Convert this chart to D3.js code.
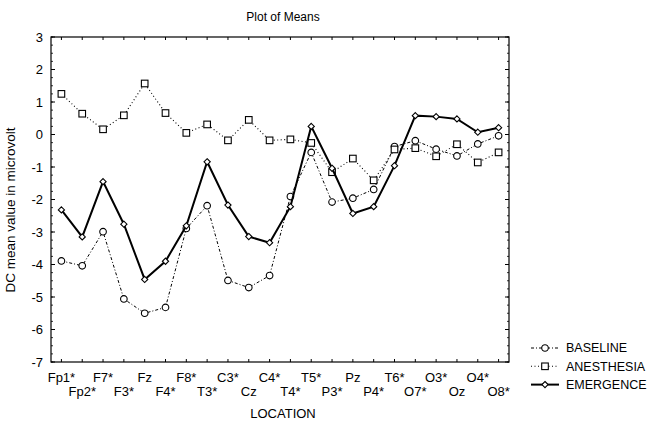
<!DOCTYPE html>
<html>
<head>
<meta charset="utf-8">
<script src="https://cdn.jsdelivr.net/npm/d3@7"></script>
<style>
  body { margin: 0; background: #fff; }
  text { font-family: "Liberation Sans", Arial, sans-serif; fill: #000; }
</style>
</head>
<body>
<svg id="chart" width="652" height="423"></svg>
<script>
/* data */
var locations = ["Fp1*", "Fp2*", "F7*", "F3*", "Fz", "F4*", "F8*", "T3*", "C3*", "Cz", "C4*",
                 "T4*", "T5*", "P3*", "Pz", "P4*", "T6*", "O7*", "O3*", "Oz", "O4*", "O8*"];
var baseline = [-3.89, -4.04, -2.99, -5.06, -5.50, -5.32, -2.89, -2.19, -4.49, -4.71, -4.34,
                -1.91, -0.55, -2.08, -1.96, -1.69, -0.37, -0.19, -0.45, -0.66, -0.29, -0.04];
var anesthesia = [1.25, 0.64, 0.16, 0.59, 1.57, 0.66, 0.05, 0.31, -0.18, 0.45, -0.18,
                  -0.15, -0.26, -1.16, -0.74, -1.41, -0.46, -0.42, -0.67, -0.30, -0.86, -0.55];
var emergence = [-2.32, -3.15, -1.45, -2.76, -4.46, -3.90, -2.81, -0.84, -2.17, -3.14, -3.33,
                 -2.22, 0.25, -1.04, -2.43, -2.22, -0.96, 0.58, 0.55, 0.48, 0.07, 0.21];
var yTicks = [3, 2, 1, 0, -1, -2, -3, -4, -5, -6, -7];

var svg = d3.select("#chart");

/* plot frame */
var margin = {top: 37, right: 143, bottom: 61, left: 51},
    width = 652 - margin.left - margin.right,
    height = 423 - margin.top - margin.bottom;

var g = svg.append("g")
    .attr("transform", "translate(" + margin.left + "," + margin.top + ")");

var x = d3.scalePoint()
    .domain(locations)
    .range([0, width])
    .padding(0.5);

var y = d3.scaleLinear()
    .domain([-7, 3])
    .range([height, 0]);

/* minor ticks every 0.25 on left and right */
var minor = d3.range(-7, 3.001, 0.25);
g.selectAll(".minorL").data(minor).enter().append("line")
    .attr("x1", 0).attr("x2", 2)
    .attr("y1", function(d) { return y(d); }).attr("y2", function(d) { return y(d); })
    .attr("stroke", "#000").attr("stroke-width", 0.8);
g.selectAll(".minorR").data(minor).enter().append("line")
    .attr("x1", width).attr("x2", width - 2)
    .attr("y1", function(d) { return y(d); }).attr("y2", function(d) { return y(d); })
    .attr("stroke", "#000").attr("stroke-width", 0.8);

/* major y ticks */
g.selectAll(".majL").data(yTicks).enter().append("line")
    .attr("x1", 0).attr("x2", 4)
    .attr("y1", function(d) { return y(d); }).attr("y2", function(d) { return y(d); })
    .attr("stroke", "#000");
g.selectAll(".majR").data(yTicks).enter().append("line")
    .attr("x1", width).attr("x2", width - 4)
    .attr("y1", function(d) { return y(d); }).attr("y2", function(d) { return y(d); })
    .attr("stroke", "#000");

g.selectAll(".ylab").data(yTicks).enter().append("text")
    .attr("x", -8)
    .attr("y", function(d) { return y(d); })
    .attr("dy", "0.35em")
    .attr("text-anchor", "end")
    .style("font-size", "13px")
    .text(function(d) { return d; });

/* x ticks top and bottom */
g.selectAll(".xtB").data(locations).enter().append("line")
    .attr("x1", function(d) { return x(d); }).attr("x2", function(d) { return x(d); })
    .attr("y1", height).attr("y2", height - 3)
    .attr("stroke", "#000");
g.selectAll(".xtT").data(locations).enter().append("line")
    .attr("x1", function(d) { return x(d); }).attr("x2", function(d) { return x(d); })
    .attr("y1", 0).attr("y2", 3)
    .attr("stroke", "#000");

/* staggered category labels */
g.selectAll(".xlab").data(locations).enter().append("text")
    .attr("x", function(d) { return x(d); })
    .attr("y", function(d, i) { return height + (i % 2 === 0 ? 19.5 : 33.5); })
    .attr("text-anchor", "middle")
    .style("font-size", "13px")
    .text(function(d) { return d; });

g.append("rect")
    .attr("width", width).attr("height", height)
    .attr("fill", "none").attr("stroke", "#000").attr("stroke-width", 1.2);

/* series */
var series = [
  {name: "BASELINE", values: baseline, dash: "3,2,1,2", sw: 1, shape: "circle"},
  {name: "ANESTHESIA", values: anesthesia, dash: "1,2.5", sw: 1.1, shape: "square"},
  {name: "EMERGENCE", values: emergence, dash: null, sw: 2, shape: "diamond"}
];

var line = d3.line()
    .x(function(d, i) { return x(locations[i]); })
    .y(function(d) { return y(d); });

function marker(sel, shape) {
  if (shape === "circle") {
    sel.append("circle").attr("r", 3.3);
  } else if (shape === "square") {
    sel.append("rect").attr("x", -3.3).attr("y", -3.3).attr("width", 6.6).attr("height", 6.6);
  } else {
    sel.append("path").attr("d", "M0,-3.1L3.1,0L0,3.1L-3.1,0Z");
  }
}

series.forEach(function(s) {
  g.append("path")
      .datum(s.values)
      .attr("fill", "none")
      .attr("stroke", "#000")
      .attr("stroke-width", s.sw)
      .attr("stroke-dasharray", s.dash)
      .attr("d", line);

  var pts = g.selectAll(".pt-" + s.shape).data(s.values).enter().append("g")
      .attr("transform", function(d, i) { return "translate(" + x(locations[i]) + "," + y(d) + ")"; });
  marker(pts, s.shape);
  pts.selectAll("*").attr("fill", "#fff").attr("stroke", "#000").attr("stroke-width", 1.1);
});

/* title and axis labels */
svg.append("text")
    .attr("x", 283).attr("y", 21)
    .attr("text-anchor", "middle")
    .style("font-size", "12px")
    .text("Plot of Means");

svg.append("text")
    .attr("transform", "translate(15,210) rotate(-90)")
    .attr("text-anchor", "middle")
    .style("font-size", "13.5px")
    .text("DC mean value in microvolt");

svg.append("text")
    .attr("x", 283).attr("y", 418)
    .attr("text-anchor", "middle")
    .style("font-size", "13px")
    .text("LOCATION");

/* legend */
var legend = svg.append("g").attr("transform", "translate(531,348)");
series.forEach(function(s, i) {
  var row = legend.append("g").attr("transform", "translate(0," + (i * 18.3) + ")");
  row.append("line")
      .attr("x1", 0).attr("x2", 28)
      .attr("stroke", "#000")
      .attr("stroke-width", s.sw)
      .attr("stroke-dasharray", s.dash);
  var m = row.append("g").attr("transform", "translate(14,0)");
  marker(m, s.shape);
  m.selectAll("*").attr("fill", "#fff").attr("stroke", "#000").attr("stroke-width", 1.1);
  row.append("text")
      .attr("x", 35).attr("dy", "0.35em")
      .style("font-size", "12.5px")
      .text(s.name);
});
</script>
</body>
</html>
